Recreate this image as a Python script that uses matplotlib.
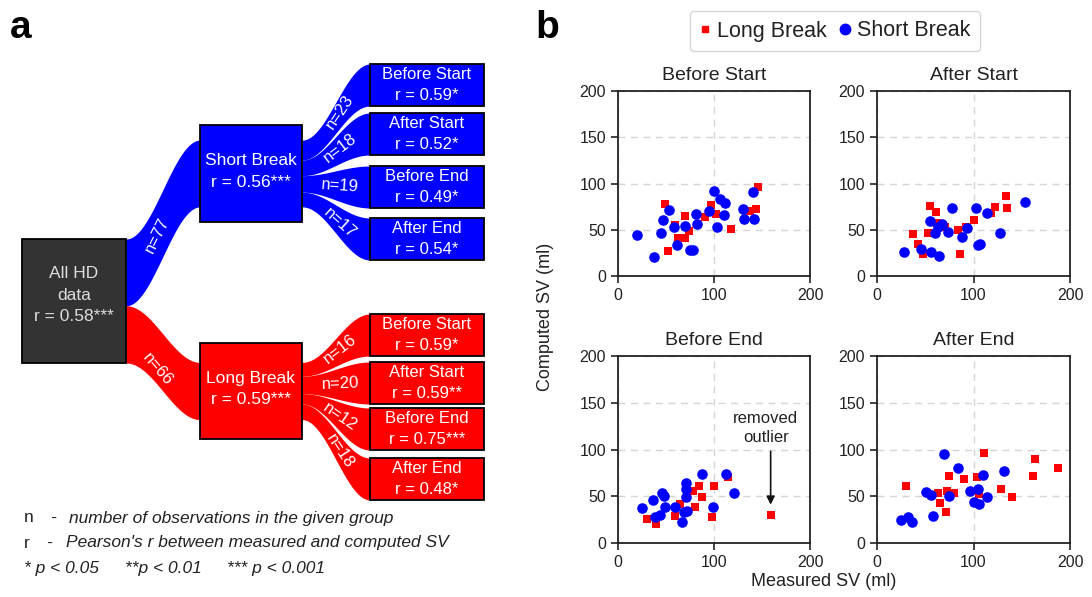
import numpy as np
import matplotlib.pyplot as plt
from matplotlib.patches import Rectangle
from matplotlib.lines import Line2D

plt.rcParams['font.family'] = ['Liberation Sans', 'DejaVu Sans']

# ---- panel a: tree of groups ----
all_r = '0.58***'
groups = ['Short Break', 'Long Break']
group_n = [77, 66]
group_r = ['0.56***', '0.59***']
phases = ['Before Start', 'After Start', 'Before End', 'After End']
phase_n = [[23, 18, 19, 17], [16, 20, 12, 18]]
phase_r = [['0.59*', '0.52*', '0.49*', '0.54*'],
           ['0.59*', '0.59**', '0.75***', '0.48*']]

# ---- panel b: measured vs computed SV ----
short_x = {
    'Before Start': [20, 37, 45, 47, 53, 58, 61, 70, 75, 78, 81, 82, 95, 100, 103, 106, 111, 110, 130, 131, 141, 142],
    'After Start': [28, 46, 56, 64, 55, 60, 63, 67, 74, 78, 88, 93, 103, 105, 107, 114, 127, 153],
    'Before End': [25, 36, 39, 46, 48, 44, 49, 59, 67, 69, 72, 71, 71, 71, 87, 99, 113, 121],
    'After End': [25, 32, 36, 51, 56, 58, 69, 75, 84, 96, 100, 105, 106, 110, 114, 132],
}
short_y = {
    'Before Start': [44, 21, 46, 61, 71, 53, 34, 54, 28, 28, 67, 56, 70, 92, 53, 83, 79, 66, 72, 62, 91, 62],
    'After Start': [26, 29, 26, 22, 60, 46, 53, 56, 48, 73, 42, 52, 73, 33, 35, 68, 46, 80],
    'Before End': [37, 46, 28, 53, 50, 30, 39, 39, 22, 33, 34, 64, 58, 49, 74, 39, 74, 53],
    'After End': [25, 28, 22, 55, 51, 29, 95, 50, 80, 56, 44, 58, 42, 73, 49, 77],
}
long_x = {
    'Before Start': [49, 52, 59, 70, 63, 70, 74, 91, 97, 102, 118, 138, 144, 146],
    'After Start': [37, 43, 48, 53, 55, 61, 62, 70, 84, 86, 92, 101, 118, 122, 134, 135],
    'Before End': [30, 40, 59, 65, 78, 80, 84, 87, 98, 100, 115, 159],
    'After End': [30, 63, 65, 71, 73, 75, 80, 90, 104, 106, 111, 129, 140, 162, 164, 188],
}
long_y = {
    'Before Start': [78, 27, 55, 65, 41, 41, 49, 64, 77, 67, 51, 70, 72, 96],
    'After Start': [45, 35, 24, 47, 76, 69, 57, 53, 50, 24, 53, 61, 68, 75, 87, 74],
    'Before End': [26, 20, 29, 42, 56, 38, 61, 49, 28, 61, 71, 30],
    'After End': [61, 53, 43, 33, 56, 72, 53, 68, 71, 52, 96, 58, 49, 72, 90, 80],
}
outlier = (159, 30)

W, H = 1092, 597
fig = plt.figure(figsize=(W / 100, H / 100), dpi=100)

# panel a is drawn in pixel coordinates
axa = fig.add_axes([0, 0, 1, 1])
axa.set_xlim(0, W)
axa.set_ylim(H, 0)
axa.axis('off')

colors = ['#0000ff', '#ff0000']
root = (22, 239, 126, 363)           # x0, y0, x1, y1
mids = [(200, 125, 302, 222), (200, 343, 302, 439)]
leaf_x = (370, 484)
leaf_top = [[64, 113, 166, 218], [314, 362, 408, 458]]
leaf_h = 42
k = (root[3] - root[1]) / sum(group_n)   # px per observation
lab_dy = [0, 14]


def box(x0, y0, x1, y1, fc, text, tc='white', fs=12.5, dy=0):
    axa.add_patch(Rectangle((x0, y0), x1 - x0, y1 - y0, fc=fc, ec='black', lw=1.3, zorder=3))
    axa.text((x0 + x1) / 2, (y0 + y1) / 2 + dy, text, color=tc, fontsize=fs,
             ha='center', va='center', linespacing=1.55, zorder=4)


def band(x0, x1, t0, b0, t1, b1, color, label, tlab, dy=0):
    xs = np.linspace(x0, x1, 120)
    s = 0.5 - 0.5 * np.cos(np.pi * (xs - x0) / (x1 - x0))
    axa.fill_between(xs, t0 + (t1 - t0) * s, b0 + (b1 - b0) * s, color=color, lw=0, zorder=1)
    c0, c1 = (t0 + b0) / 2, (t1 + b1) / 2
    xl = x0 + tlab * (x1 - x0)
    yl = c0 + (c1 - c0) * (0.5 - 0.5 * np.cos(np.pi * tlab))
    slope = (c1 - c0) * np.pi / 2 * np.sin(np.pi * tlab) / (x1 - x0)
    rot = -np.degrees(np.arctan(slope))
    axa.text(xl, yl + dy, label, color='white', fontsize=12, ha='center', va='center',
             rotation=rot, rotation_mode='anchor', zorder=2)


box(*root, '#333333', 'All HD\ndata\nr = ' + all_r, tc='#dddddd', dy=-6)
y_src = root[1]
for g in range(2):
    mx0, my0, mx1, my1 = mids[g]
    w = group_n[g] * k
    mc = (my0 + my1) / 2
    band(root[2], mx0, y_src, y_src + w, mc - w / 2, mc + w / 2, colors[g],
         'n=%d' % group_n[g], 0.42, lab_dy[g])
    y_src += w
    box(mx0, my0, mx1, my1, colors[g], groups[g] + '\nr = ' + group_r[g], dy=-2)
    ys = mc - w / 2
    for i in range(4):
        wi = phase_n[g][i] * k
        lt = leaf_top[g][i]
        band(mx1, leaf_x[0], ys, ys + wi, lt, lt + leaf_h, colors[g],
             'n=%d' % phase_n[g][i], 0.56)
        ys += wi
        box(leaf_x[0], lt, leaf_x[1], lt + leaf_h, colors[g],
            phases[i] + '\nr = ' + phase_r[g][i], fs=12)

# footnote
tc = '#222222'
fig.text(24 / W, 1 - 518 / H, 'n', fontsize=12.5, color=tc, va='center')
fig.text(50 / W, 1 - 518 / H, '-', fontsize=12.5, color=tc, va='center', style='italic')
fig.text(69 / W, 1 - 518 / H, 'number of observations in the given group', fontsize=12.5,
         color=tc, va='center', style='italic')
fig.text(24 / W, 1 - 543 / H, 'r', fontsize=12.5, color=tc, va='center')
fig.text(46 / W, 1 - 543 / H, '-', fontsize=12.5, color=tc, va='center', style='italic')
fig.text(66 / W, 1 - 543 / H, "Pearson's r between measured and computed SV", fontsize=12.5,
         color=tc, va='center', style='italic')
fig.text(24 / W, 1 - 568 / H, '* p < 0.05', fontsize=12.5, color=tc, va='center', style='italic')
fig.text(125 / W, 1 - 568 / H, '**p < 0.01', fontsize=12.5, color=tc, va='center', style='italic')
fig.text(227 / W, 1 - 568 / H, '*** p < 0.001', fontsize=12.5, color=tc, va='center', style='italic')

# ---- panel b ----
pos = {
    'Before Start': [618 / W, 1 - 276 / H, 192 / W, 185 / H],
    'After Start': [877 / W, 1 - 276 / H, 193 / W, 185 / H],
    'Before End': [618 / W, 1 - 543 / H, 192 / W, 187 / H],
    'After End': [877 / W, 1 - 543 / H, 193 / W, 187 / H],
}
for p in phases:
    ax = fig.add_axes(pos[p])
    ax.scatter(long_x[p], long_y[p], marker='s', s=28, color='#ff0000', lw=0, zorder=3)
    ax.scatter(short_x[p], short_y[p], marker='o', s=58, color='#0000ff', lw=0, zorder=4)
    ax.set_xlim(0, 200)
    ax.set_ylim(0, 200)
    ax.set_xticks([0, 100, 200])
    ax.set_yticks([0, 50, 100, 150, 200])
    ax.grid(True, ls=(0, (5, 4)), color='#d5d5d5', lw=1)
    ax.set_axisbelow(True)
    ax.tick_params(labelsize=11.5, colors='#222222', length=5, width=1.2)
    for sp in ax.spines.values():
        sp.set_color('#222222')
        sp.set_linewidth(1.3)
    ax.set_title(p, fontsize=14, color='#222222', pad=8)
    if p == 'Before End':
        ax.annotate('', xy=(outlier[0], outlier[1] + 8), xytext=(outlier[0], 101),
                    arrowprops=dict(arrowstyle='-|>', color='#111111', lw=1.2, mutation_scale=12))
        ax.text(outlier[0] - 5, 105, 'removed\noutlier', fontsize=12, color='#222222',
                ha='center', va='bottom', linespacing=1.3)

fig.text(545 / W, 1 - 317 / H, 'Computed SV (ml)', fontsize=13, color='#222222',
         rotation=90, ha='center', va='center')
fig.text(824 / W, 1 - 582 / H, 'Measured SV (ml)', fontsize=13, color='#222222',
         ha='center', va='center')

handles = [Line2D([], [], marker='s', ls='', color='#ff0000', markersize=5),
           Line2D([], [], marker='o', ls='', color='#0000ff', markersize=7.5)]
fig.legend(handles, ['Long Break', 'Short Break'], loc='center', ncol=2,
           bbox_to_anchor=(835 / W, 1 - 31 / H), fontsize=15.5, handlelength=0.5,
           handletextpad=0.3, columnspacing=0.6, borderpad=0.45, edgecolor='#cccccc',
           labelcolor='#222222')

fig.text(10 / W, 1 - 10 / H, 'a', fontsize=28, fontweight='bold', va='top')
fig.text(535 / W, 1 - 10 / H, 'b', fontsize=28, fontweight='bold', va='top')

fig.savefig('out.png', dpi=100)
